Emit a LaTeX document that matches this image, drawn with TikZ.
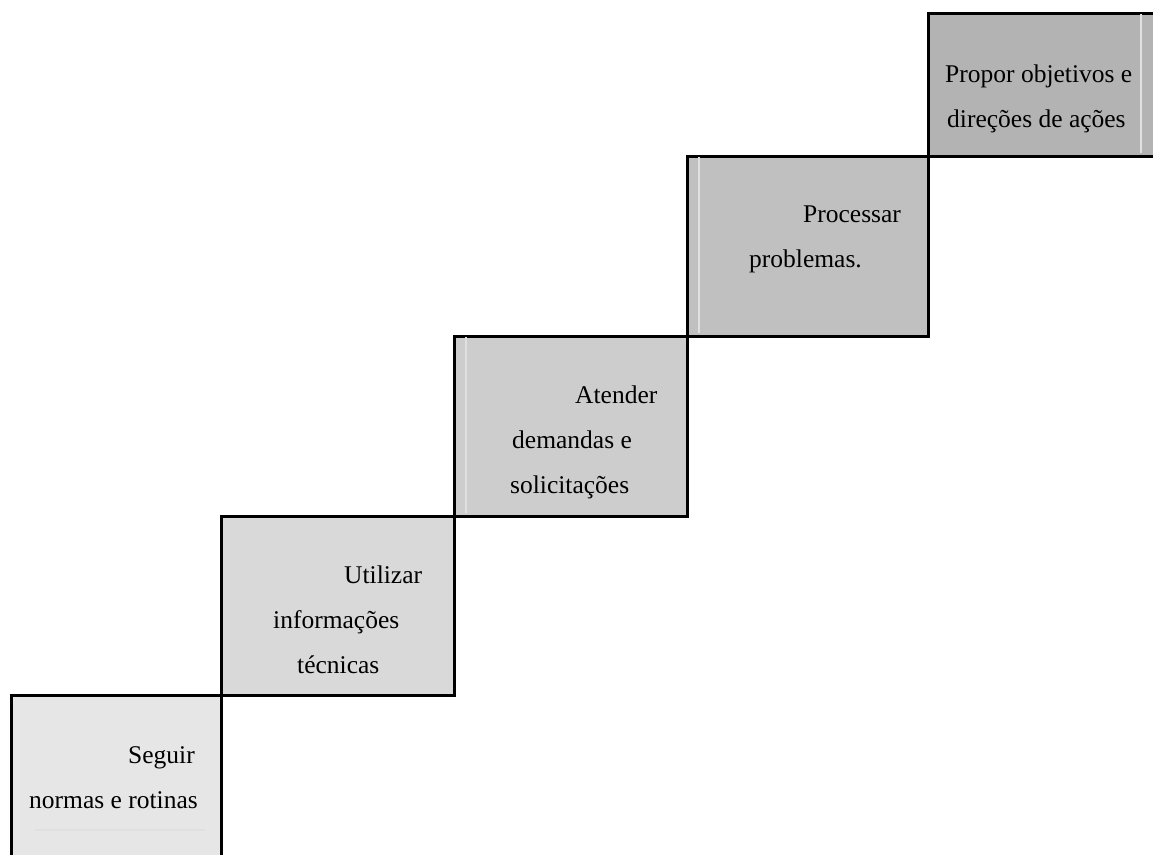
\documentclass[tikz,border=0pt]{standalone}
\usepackage{fontspec}
\setmainfont{Liberation Serif}
\definecolor{g1}{HTML}{E6E6E6}
\definecolor{g2}{HTML}{D9D9D9}
\definecolor{g3}{HTML}{CDCDCD}
\definecolor{g4}{HTML}{C0C0C0}
\definecolor{g5}{HTML}{B3B3B3}
\definecolor{faint}{HTML}{E0E0E0}
\tikzset{
  stepbox/.style={draw=black, line width=2.5pt, rectangle, inner sep=0pt, anchor=north west},
  lbl/.style={inner sep=0pt, anchor=base west, font=\fontsize{25.5}{30}\selectfont, text=black},
  faintline/.style={draw=faint, line width=1.5pt}
}
\begin{document}
\begin{tikzpicture}[x=1pt,y=-1pt]
\useasboundingbox (0,0) rectangle (1153,854);
\clip (0,0) rectangle (1153,854);
\fill[white] (0,0) rectangle (1153,854);
% boxes
\node[stepbox, fill=g1, minimum width=210pt, minimum height=200pt] (b1) at (10,694) {};
\node[stepbox, fill=g2, minimum width=233pt, minimum height=179pt] (b2) at (220,515) {};
\node[stepbox, fill=g3, minimum width=233pt, minimum height=180pt] (b3) at (453,335) {};
\node[stepbox, fill=g4, minimum width=241pt, minimum height=180pt] (b4) at (686,155) {};
\node[stepbox, fill=g5, minimum width=260pt, minimum height=143pt] (b5) at (927,12) {};
% faint inner lines
\coordinate (f1a) at (35,830); \coordinate (f1b) at (205,830);
\draw[faintline] (f1a) -- (f1b);
\coordinate (f3a) at (466,337); \coordinate (f3b) at (466,513);
\draw[faintline] (f3a) -- (f3b);
\coordinate (f4a) at (699,157); \coordinate (f4b) at (699,333);
\draw[faintline] (f4a) -- (f4b);
\coordinate (f5a) at (1141,14); \coordinate (f5b) at (1141,153);
\draw[faintline] (f5a) -- (f5b);
% labels
\node[lbl] (t1a) at (128,763) {Seguir};
\node[lbl] (t1b) at (29,808) {normas e rotinas};
\node[lbl] (t2a) at (344,583) {Utilizar};
\node[lbl] (t2b) at (273,628) {informações};
\node[lbl] (t2c) at (297,673) {técnicas};
\node[lbl] (t3a) at (575,403) {Atender};
\node[lbl] (t3b) at (512,448) {demandas e};
\node[lbl] (t3c) at (510,493) {solicitações};
\node[lbl] (t4a) at (803,222) {Processar};
\node[lbl] (t4b) at (749,267) {problemas.};
\node[lbl] (t5a) at (945,82) {Propor objetivos e};
\node[lbl] (t5b) at (947,127) {direções de ações};
\end{tikzpicture}
\end{document}
